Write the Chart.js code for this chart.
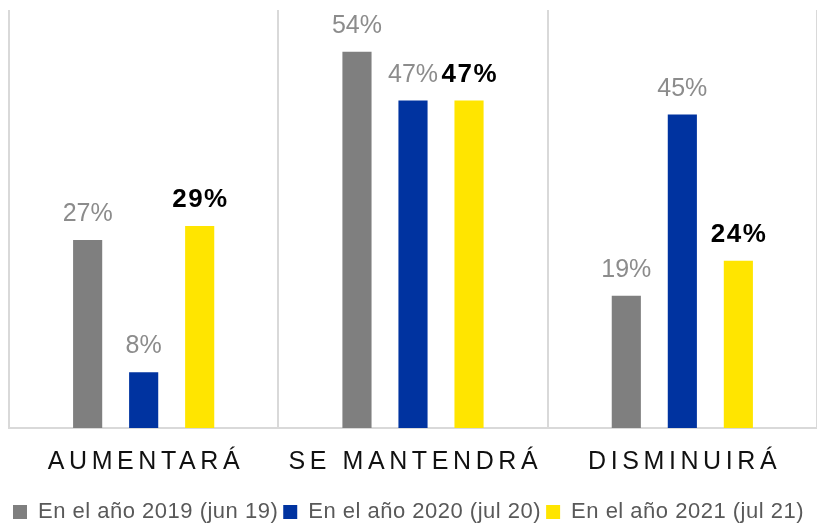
<!DOCTYPE html>
<html>
<head>
<meta charset="utf-8">
<script src="https://cdn.jsdelivr.net/npm/chart.js@4/dist/chart.umd.min.js"></script>
<style>
  body { margin: 0; background: #fff; }
  #wrap { width: 817px; height: 527px; }
</style>
</head>
<body>
<div id="wrap"><canvas id="myChart"></canvas></div>
<script>
// Categories and series
const categories = ["AUMENTARÁ", "SE MANTENDRÁ", "DISMINUIRÁ"];
const seriesNames = ["En el año 2019 (jun 19)", "En el año 2020 (jul 20)", "En el año 2021 (jul 21)"];
const values2019 = [27, 54, 19];
const values2020 = [8, 47, 45];
const values2021 = [29, 47, 24];

const FONT = "'Liberation Sans', Arial, sans-serif";

// Draws the % labels above the bars and the spaced-out category labels
const labelPlugin = {
  id: "labels",
  beforeLayout(chart) {
    chart.ctx.letterSpacing = "0.5px";
  },
  beforeDraw(chart) {
    chart.ctx.letterSpacing = "0.5px";
  },
  afterDatasetsDraw(chart) {
    const ctx = chart.ctx;
    ctx.save();
    ctx.textAlign = "center";
    ctx.textBaseline = "alphabetic";
    chart.data.datasets.forEach((ds, i) => {
      const meta = chart.getDatasetMeta(i);
      const bold = i === 2;
      ctx.font = bold ? "bold 26px " + FONT : "25px " + FONT;
      ctx.fillStyle = bold ? "#000000" : "#8c8c8c";
      ctx.letterSpacing = bold ? "1.5px" : "0px";
      meta.data.forEach((bar, j) => {
        const shift = bold ? 0.75 : 0;
        ctx.fillText(ds.data[j] + "%", bar.x + shift, bar.y - 19);
      });
    });
    ctx.restore();
  },
  afterDraw(chart) {
    const ctx = chart.ctx;
    const x = chart.scales.x;
    ctx.save();
    ctx.font = "25px " + FONT;
    ctx.fillStyle = "#111111";
    ctx.textAlign = "center";
    ctx.textBaseline = "alphabetic";
    ctx.letterSpacing = "4.6px";
    categories.forEach((c, i) => {
      ctx.fillText(c, x.getPixelForValue(i) + 2.3, chart.chartArea.bottom + 41);
    });
    ctx.restore();
  },
};

new Chart(document.getElementById("myChart"), {
  type: "bar",
  data: {
    labels: categories,
    datasets: [
      { label: seriesNames[0], data: values2019, backgroundColor: "#7f7f7f" },
      { label: seriesNames[1], data: values2020, backgroundColor: "#0033a0" },
      { label: seriesNames[2], data: values2021, backgroundColor: "#ffe500" },
    ],
  },
  options: {
    responsive: true,
    maintainAspectRatio: false,
    animation: false,
    layout: { padding: { left: 0, top: 10, right: 0, bottom: -6 } },
    datasets: {
      bar: { categoryPercentage: 0.624, barPercentage: 0.52 },
    },
    scales: {
      x: {
        grid: { color: "#d9d9d9", lineWidth: 2, drawTicks: false, offset: true },
        border: { color: "#d9d9d9", width: 2 },
        ticks: { display: false },
        afterFit: (scale) => {
          scale.height = 68;
        },
      },
      y: {
        display: true,
        min: 0,
        max: 60,
        grid: { display: false },
        border: { display: false },
        ticks: { display: false },
        afterFit: (scale) => {
          scale.width = 9;
        },
      },
    },
    plugins: {
      tooltip: { enabled: false },
      legend: {
        position: "bottom",
        labels: {
          boxWidth: 14,
          boxHeight: 14,
          padding: 5,
          color: "#595959",
          font: { family: FONT, size: 22, lineHeight: 1 },
        },
      },
    },
  },
  plugins: [labelPlugin],
});
</script>
</body>
</html>
